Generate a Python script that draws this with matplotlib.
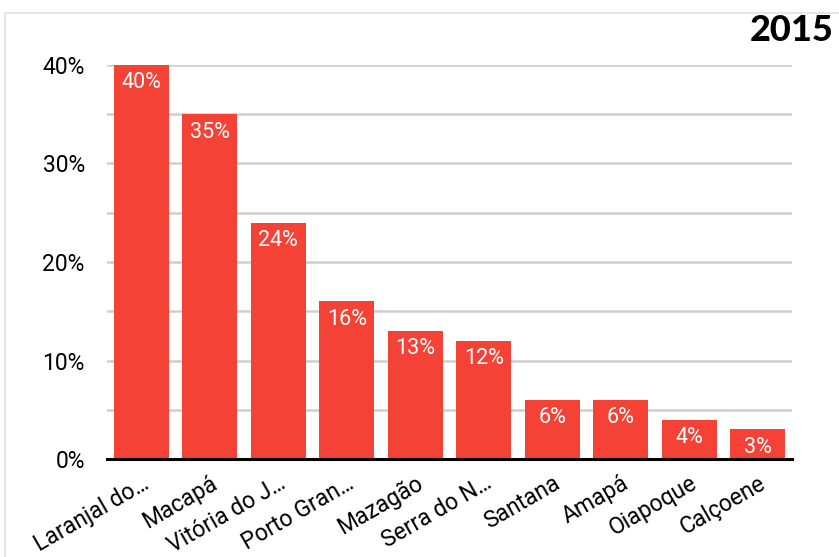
import matplotlib.pyplot as plt
from matplotlib.patches import Rectangle

# municipality names (truncated like in the original) and share values
cities = ["Laranjal do…", "Macapá", "Vitória do J…", "Porto Gran…", "Mazagão",
          "Serra do N…", "Santana", "Amapá", "Oiapoque", "Calçoene"]
values = [40, 35, 24, 16, 13, 12, 6, 6, 4, 3]
yticks = [0, 10, 20, 30, 40]
title = "2015"

plt.rcParams["font.family"] = ["Roboto", "DejaVu Sans"]

fig = plt.figure(figsize=(8.39, 5.57), dpi=100)

# light card border at top/left
card = Rectangle((5 / 839, -0.1), 1.2, 1.1 - 13 / 557, transform=fig.transFigure,
                 facecolor="white", edgecolor="#e2e2e2", linewidth=1.2, zorder=-1)
fig.patches.append(card)

ax = fig.add_axes([107 / 839, 1 - 459 / 557, (792 - 107) / 839, (459 - 65) / 557])
ax.set_zorder(2)
ax.set_facecolor("none")

x = range(len(cities))
bars = ax.bar(x, values, width=0.8, color="#f44336", zorder=3)

for b, v in zip(bars, values):
    ax.text(b.get_x() + b.get_width() / 2, v - 0.75, f"{v}%", ha="center", va="top",
            color="white", fontsize=15.5, zorder=4)

ax.set_xlim(-0.5, len(cities) - 0.5)
ax.set_ylim(0, 40)
ax.set_yticks(yticks)
ax.set_yticklabels([f"{t}%" for t in yticks], fontsize=16.5)
for g in range(5, 41, 5):
    ax.axhline(g, color="#cfcfcf", linewidth=1.8, zorder=1)
ax.axhline(0, color="black", linewidth=2.2, zorder=5, clip_on=False)

ax.set_xticks(list(x))
ax.set_xticklabels(cities, rotation=30, ha="right", rotation_mode="anchor", fontsize=16.5)
ax.tick_params(axis="y", length=0, pad=16)
ax.tick_params(axis="x", length=0, pad=9)
for s in ax.spines.values():
    s.set_visible(False)

fig.text(0.993, 0.945, title, ha="right", va="center", fontsize=26, fontweight=900,
         family=["Lato", "DejaVu Sans"])

fig.savefig("out.png", dpi=100)
